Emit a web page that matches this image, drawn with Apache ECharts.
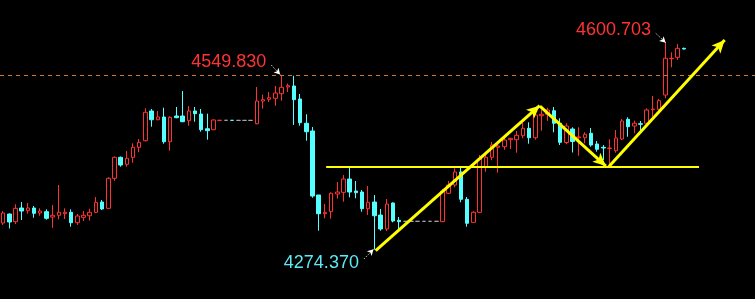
<!DOCTYPE html>
<html>
<head>
<meta charset="utf-8">
<script src="https://cdn.jsdelivr.net/npm/echarts@6/dist/echarts.min.js"></script>
<style>
html,body{margin:0;padding:0;background:#000;}
#chart{width:755px;height:299px;}
</style>
</head>
<body>
<div id="chart"></div>
<script>
// ---- data ----
const openVals = [4316.3,4330.5,4318.4,4340.0,4335.7,4340.0,4332.1,4334.2,4325.8,4328.5,
4331.0,4333.2,4316.8,4325.3,4327.8,4333.2,4349.4,4339.5,4386.8,4419.9,
4408.9,4419.9,4435.7,4446.1,4493.0,4479.2,4483.5,4444.5,4485.1,4485.1,
4477.7,4493.0,4488.2,4465.0,4463.5,4478.2,4478.3,4478.3,4478.2,4478.2,
4478.2,4472.9,4508.7,4511.4,4513.0,4520.2,4530.8,4532.4,4511.9,4473.6,
4461.4,4360.5,4331.0,4334.2,4362.1,4364.7,4385.7,4366.8,4365.2,4338.9,
4349.4,4328.9,4306.9,4347.9,4320.6,4319.0,4319.0,4319.0,4319.0,4319.0,
4319.0,4318.4,4363.2,4376.3,4396.8,4353.7,4317.4,4333.2,4405.1,4419.9,
4435.7,4436.7,4447.7,4447.7,4454.0,4465.7,4450.8,4485.5,4487.8,4493.4,
4473.6,4443.3,4464.6,4450.8,4450.8,4457.8,4440.9,4435.7,4433.8,4430.3,
4448.8,4479.9,4469.3,4472.9,4473.6,4495.0,4495.6,4518.2,4575.4,4577.6,4591.8];
const closeVals = [4332.1,4317.9,4339.5,4335.2,4340.0,4331.6,4335.2,4323.7,4328.5,4333.2,
4333.2,4316.8,4327.4,4328.5,4333.2,4349.0,4338.4,4386.8,4419.9,4407.8,
4418.4,4435.7,4443.6,4490.9,4479.2,4483.5,4444.5,4483.0,4482.4,4476.1,
4493.0,4488.7,4463.5,4461.9,4478.8,4478.3,4478.3,4478.2,4478.2,4478.2,
4478.2,4508.7,4510.8,4513.9,4521.3,4530.3,4532.9,4510.8,4474.5,4460.3,
4358.9,4331.0,4333.2,4363.2,4365.2,4385.7,4365.2,4364.1,4338.9,4349.0,
4327.8,4306.9,4346.3,4319.5,4318.4,4319.0,4319.0,4319.0,4319.0,4319.0,
4319.0,4366.8,4376.3,4396.8,4353.7,4315.9,4333.2,4417.3,4419.9,4439.3,
4437.8,4447.2,4449.9,4454.6,4465.7,4450.8,4486.6,4487.8,4494.5,4473.6,
4443.6,4469.3,4444.9,4452.0,4456.2,4439.3,4432.6,4434.6,4434.6,4450.4,
4477.2,4468.2,4473.6,4472.0,4494.5,4496.1,4509.2,4576.1,4576.1,4591.8,4590.7];
const lowVals = [4313.2,4307.7,4314.8,4321.1,4331.0,4324.7,4327.8,4321.5,4308.9,4322.2,
4322.6,4310.5,4313.2,4319.5,4320.0,4332.1,4336.8,4338.4,4383.0,4405.1,
4405.1,4411.4,4427.8,4444.9,4468.2,4478.4,4441.4,4430.3,4481.6,4475.3,
4469.8,4476.1,4460.3,4447.7,4462.7,4478.2,4478.3,4478.2,4478.2,4478.2,
4478.2,4472.1,4496.6,4507.1,4501.3,4509.2,4522.9,4470.9,4469.8,4446.1,
4356.2,4304.2,4323.7,4323.1,4354.7,4349.9,4356.9,4355.3,4334.2,4328.9,
4274.37,4304.2,4303.7,4317.4,4304.2,4319.0,4319.0,4319.0,4319.0,4319.0,
4319.0,4317.9,4362.1,4372.6,4349.0,4310.5,4316.8,4332.1,4397.2,4415.2,
4395.7,4431.9,4433.0,4427.2,4449.9,4441.4,4447.7,4461.9,4477.2,4459.4,
4439.3,4440.4,4427.5,4422.5,4442.0,4436.7,4428.8,4415.7,4407.8,4427.2,
4447.2,4452.4,4457.8,4463.0,4472.5,4484.0,4494.5,4513.0,4561.9,4573.4,4589.9];
const highVals = [4335.3,4331.3,4345.8,4349.4,4347.9,4343.1,4339.5,4337.9,4344.7,4376.3,
4339.5,4337.9,4330.5,4335.2,4338.9,4357.3,4352.6,4388.4,4421.2,4421.2,
4429.9,4442.0,4448.8,4497.2,4496.1,4493.0,4498.2,4484.6,4499.3,4524.5,
4500.8,4499.3,4496.1,4488.7,4479.6,4478.3,4478.3,4478.3,4478.2,4478.2,
4478.2,4530.8,4518.7,4522.9,4532.4,4549.83,4536.3,4548.5,4519.8,4487.8,
4467.7,4360.5,4346.3,4364.7,4381.0,4392.0,4404.2,4382.6,4368.4,4374.7,
4360.5,4338.4,4354.2,4348.7,4325.8,4319.0,4319.0,4319.0,4319.0,4319.0,
4319.0,4370.0,4382.6,4402.6,4403.5,4357.3,4335.2,4423.6,4426.2,4444.1,
4440.4,4452.4,4450.5,4461.4,4474.0,4475.1,4489.3,4495.6,4498.2,4499.3,
4481.4,4473.6,4467.2,4467.2,4459.4,4466.1,4445.6,4439.3,4448.3,4463.0,
4480.3,4483.0,4477.7,4477.2,4497.2,4516.6,4511.9,4600.703,4585.5,4598.6,4592.8];
const slotCount = 122;           // candle slots incl. empty space on the right
const refLevel = 4549.7;         // dashed reference level
const supportLevel = 4404.6;     // yellow horizontal line
const annotHigh1 = '4549.830';
const annotHigh2 = '4600.703';
const annotLow = '4274.370';

// ---- build ----
const categories = [];
const candleData = [];
for (let i = 0; i < slotCount; i++) {
  categories.push(String(i));
  if (i < openVals.length) {
    const o = openVals[i], c = closeVals[i], l = lowVals[i], h = highVals[i];
    const item = { value: [o, c, l, h] };
    if (o === c && l === h) item.itemStyle = { color: '#a8a8a8', borderColor: '#a8a8a8', borderColor0: '#a8a8a8', color0: '#a8a8a8' };
    candleData.push(item);
  } else {
    candleData.push('-');
  }
}

const RED = '#ff3232', CYAN = '#54ffff', YEL = '#ffff00';
const chart = echarts.init(document.getElementById('chart'), null, { renderer: 'canvas' });
const pitch = 6.26;
chart.setOption({
  backgroundColor: '#000',
  animation: false,
  grid: { left: -1.96 - pitch / 2, top: 0, width: slotCount * pitch, height: 299, containLabel: false },
  xAxis: [
    { type: 'category', data: categories, boundaryGap: true, show: false },
    { type: 'value', min: -0.5, max: slotCount - 0.5, show: false }
  ],
  yAxis: { type: 'value', min: 4196.5, max: 4668, show: false, splitLine: { show: false } },
  series: [
    {
      type: 'candlestick', xAxisIndex: 0, barWidth: 4, data: candleData,
      itemStyle: { color: '#000', color0: CYAN, borderColor: RED, borderColor0: CYAN, borderWidth: 1 }
    },
    {
      type: 'line', xAxisIndex: 1, data: [], silent: true,
      markLine: {
        silent: true, symbol: ['none', 'none'], label: { show: false },
        lineStyle: { color: '#d2782e', type: [4, 4], width: 1 },
        data: [{ yAxis: refLevel }]
      }
    },
    {
      type: 'line', xAxisIndex: 1, data: [], silent: true,
      markLine: {
        silent: true, symbol: ['none', 'none'], label: { show: false },
        lineStyle: { color: YEL, type: 'solid', width: 2 },
        data: [[{ coord: [52.2, supportLevel] }, { coord: [112.45, supportLevel] }]]
      }
    },
    {
      type: 'line', xAxisIndex: 1, data: [], silent: true,
      markLine: {
        silent: true, symbol: ['none', 'arrow'], symbolSize: [9, 13], label: { show: false },
        lineStyle: { color: YEL, type: 'solid', width: 3 },
        data: [
          [{ coord: [60.2, 4272.6] }, { coord: [86.7, 4501.3] }],
          [{ coord: [86.75, 4500.8] }, { coord: [97.4, 4406.2] }],
          [{ coord: [97.9, 4405.4] }, { coord: [116.6, 4604.9] }]
        ]
      }
    },
    {
      type: 'line', xAxisIndex: 1, data: [], silent: true,
      markLine: {
        silent: true, symbol: ['none', 'arrow'], symbolSize: [5, 6], label: { show: false },
        lineStyle: { color: '#ffffff', type: [1, 1.5], width: 1 },
        data: [
          [{ coord: [43.33, 4565.5] }, { coord: [44.77, 4550.5] }],
          [{ coord: [105.47, 4615.5] }, { coord: [107.07, 4600.7] }],
          [{ coord: [58.35, 4260.0] }, { coord: [59.85, 4274.9] }]
        ]
      },
      markPoint: {
        silent: true, symbol: 'circle', symbolSize: 1,
        itemStyle: { color: 'rgba(0,0,0,0)' },
        label: { show: true, position: 'inside', fontFamily: 'Liberation Sans, Arial, sans-serif', fontSize: 18 },
        data: [
          { coord: [36.45, 4570.2], label: { formatter: annotHigh1, color: '#ff3333' } },
          { coord: [98.64, 4620.2], label: { formatter: annotHigh2, color: '#ff3333' } },
          { coord: [51.43, 4252.5], label: { formatter: annotLow, color: '#5ee8f5' } }
        ]
      }
    }
  ]
});
</script>
</body>
</html>
